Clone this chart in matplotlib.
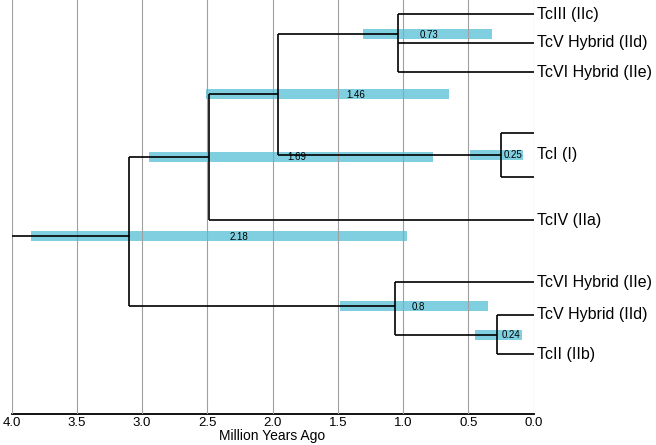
import matplotlib
matplotlib.use("Agg")
import matplotlib.pyplot as plt
import numpy as np

plt.rcParams['font.family'] = ['Liberation Sans', 'DejaVu Sans']

# internal nodes: age (Myr), row of the stem, 95% HPD bar, printed value
node_ids = ["A", "B", "C", "D", "E", "F", "G"]
node_age = [1.04, 0.25, 1.96, 2.49, 3.10, 1.06, 0.28]
node_row = [34, 155, 94, 157, 236, 306, 335]
hpd_low = [0.32, 0.08, 0.65, 0.77, 0.97, 0.35, 0.09]
hpd_high = [1.31, 0.49, 2.51, 2.95, 3.85, 1.48, 0.45]
bar_value = ["0.73", "0.25", "1.46", "1.69", "2.18", "0.8", "0.24"]
value_age = [0.80, 0.16, 1.36, 1.81, 2.26, 0.88, 0.17]

# tips (age 0)
tip_ids = ["IIc", "IId_a", "IIe_a", "I_1", "I_2", "IIa", "IIe_b", "IId_b", "IIb"]
tip_row = [14, 43, 72, 133, 177, 220, 282, 315, 354]

# tip labels
tip_labels = ["TcIII (IIc)", "TcV Hybrid (IId)", "TcVI Hybrid (IIe)", "TcI (I)",
              "TcIV (IIa)", "TcVI Hybrid (IIe)", "TcV Hybrid (IId)", "TcII (IIb)"]
label_row = [14, 43, 72, 155, 220, 282, 315, 354]

children = {
    "E": ["D", "F"],
    "D": ["C", "IIa"],
    "C": ["A", "B"],
    "A": ["IIc", "IId_a", "IIe_a"],
    "B": ["I_1", "I_2"],
    "F": ["IIe_b", "G"],
    "G": ["IId_b", "IIb"],
}
root = "E"
root_age = 4.0

age = dict(zip(node_ids, node_age))
age.update({t: 0.0 for t in tip_ids})
row = dict(zip(node_ids, node_row))
row.update(dict(zip(tip_ids, tip_row)))

fig = plt.figure(figsize=(6.56, 4.45), dpi=100)
ax = fig.add_axes([11.5 / 656, 31 / 445, 522 / 656, 414 / 445])

bar_color = "#7fcfe1"
ax.barh(node_row, np.array(hpd_high) - np.array(hpd_low), left=hpd_low,
        height=10, color=bar_color, zorder=1)
for a, r, v in zip(value_age, node_row, bar_value):
    ax.text(a, r + 0.5, v, fontsize=7, ha="center", va="center", zorder=5)

lw = 1.2
for parent, kids in children.items():
    rows = [row[k] for k in kids]
    ax.plot([age[parent], age[parent]], [min(rows), max(rows)],
            color="black", lw=lw, zorder=4, solid_capstyle="butt")
    for k in kids:
        ax.plot([age[parent], age[k]], [row[k], row[k]],
                color="black", lw=lw, zorder=4, solid_capstyle="butt")
ax.plot([root_age, age[root]], [row[root], row[root]], color="black", lw=lw, zorder=4)

for lab, r in zip(tip_labels, label_row):
    ax.annotate(lab, xy=(0, r), xytext=(2.5, 0), textcoords="offset points",
                fontsize=11.5, ha="left", va="center", annotation_clip=False)

ax.set_xlim(4.0, 0.0)
ax.set_ylim(414, 0)
ticks = np.arange(0, 4.01, 0.5)
ax.set_xticks(ticks)
ax.set_xticklabels([f"{t:.1f}" for t in ticks], fontsize=9.5)
ax.set_yticks([])
ax.tick_params(axis="x", length=0, pad=2)
ax.set_xlabel("Million Years Ago", fontsize=10, labelpad=0)
ax.grid(axis="x", color="#a0a0a0", lw=0.8, zorder=2.5)
ax.set_axisbelow(False)
for s in ["top", "left", "right"]:
    ax.spines[s].set_visible(False)
ax.spines["bottom"].set_linewidth(1.3)

fig.savefig("out.png", dpi=100)
